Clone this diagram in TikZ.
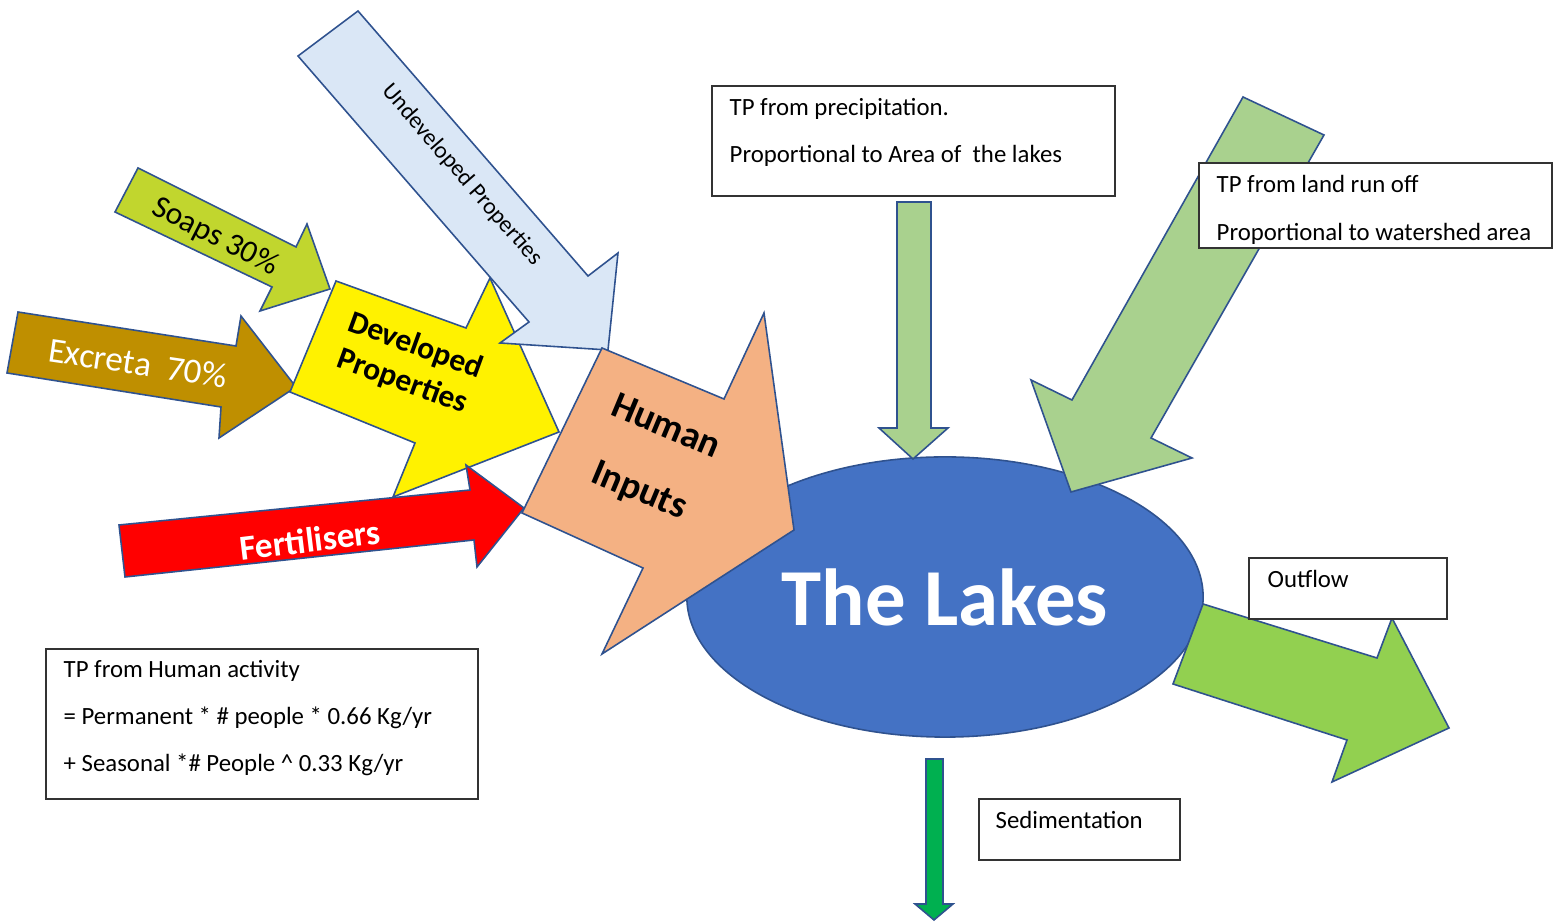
\documentclass[tikz,border=0pt]{standalone}
\usepackage{fontspec}
\setmainfont{Carlito}
\usetikzlibrary{shapes.geometric}
\definecolor{outl}{RGB}{47,82,143}
\definecolor{soap}{RGB}{193,214,46}
\definecolor{excr}{RGB}{191,143,0}
\definecolor{undev}{RGB}{218,231,246}
\definecolor{human}{RGB}{244,177,131}
\definecolor{lake}{RGB}{68,114,196}
\definecolor{lgreen}{RGB}{169,209,142}
\definecolor{ogreen}{RGB}{146,208,80}
\definecolor{sgreen}{RGB}{0,176,80}
\begin{document}
\begin{tikzpicture}[x=0.01cm,y=-0.01cm,
  blockarrow/.style={draw=outl,line width=0.45pt,line join=miter},
  infobox/.style={draw=black!80,line width=0.55pt,fill=white,anchor=north west,inner sep=0pt},
  boxtext/.style={anchor=base west,inner sep=0pt,font=\fontsize{7.05}{8}\selectfont},
  arrowlabel/.style={inner sep=0pt}]
\useasboundingbox (0,0) rectangle (1559,922);

% Soaps
\filldraw[blockarrow,fill=soap] (138,168) -- (296,247) -- (307,224) -- (330,289) -- (260,311) -- (272,287) -- (115,212) -- cycle;
% Excreta
\filldraw[blockarrow,fill=excr] (18,312) -- (236,346) -- (241,316) -- (296,387) -- (219,438) -- (221,407) -- (7,373) -- cycle;
% Developed properties
\filldraw[blockarrow,fill=yellow] (336,281) -- (466,328) -- (490,278) -- (559,432) -- (393,497) -- (415,443) -- (290,392) -- cycle;
% Undeveloped properties
\filldraw[blockarrow,fill=undev] (358,11) -- (588,276) -- (618,253) -- (608,350) -- (500,343) -- (529,322) -- (298,56) -- cycle;
% Fertilisers
\filldraw[blockarrow,fill=red] (119,525) -- (470,490) -- (466,465) -- (524,508) -- (477,567) -- (474,540) -- (125,577) -- cycle;

% The Lakes
\node[ellipse,fill=lake,draw=outl,line width=0.45pt,minimum width=5.16cm,minimum height=2.80cm,inner sep=0pt,
      text=white,font=\fontsize{23}{27}\selectfont\bfseries] (lakes) at (945,597) {The Lakes};

% Human inputs
\filldraw[blockarrow,fill=human] (602,348) -- (724,399) -- (764,313) -- (794,530) -- (602,654) -- (643,568) -- (522,513) -- cycle;
% Precipitation arrow
\filldraw[blockarrow,fill=lgreen] (897,202) -- (931,202) -- (931,428) -- (948,428) -- (913,459) -- (879,428) -- (897,428) -- cycle;
% Runoff arrow
\filldraw[blockarrow,fill=lgreen] (1243,97) -- (1324,135) -- (1151,438) -- (1192,458) -- (1071,492) -- (1031,380) -- (1072,400) -- cycle;
% Outflow arrow
\filldraw[blockarrow,fill=ogreen] (1203,604) -- (1377,658) -- (1392,618) -- (1449,728) -- (1332,782) -- (1347,740) -- (1173,684) -- cycle;
% Sedimentation arrow
\filldraw[blockarrow,fill=sgreen] (926,759) -- (943,759) -- (943,904) -- (953,904) -- (934,920) -- (915,904) -- (926,904) -- cycle;

% Arrow labels
\node[arrowlabel,rotate=-27,font=\fontsize{9}{10}\selectfont] (soapt) at (215,237) {Soaps 30\%};
\node[arrowlabel,rotate=-8.5,text=white,font=\fontsize{10}{12}\selectfont] (excrt) at (138,363) {Excreta\ \ 70\%};
\node[arrowlabel,rotate=-20,align=center,font=\fontsize{9}{10.8}\selectfont\bfseries] (devt) at (409,364) {Developed\\Properties};
\node[arrowlabel,rotate=-49,font=\fontsize{6.7}{8}\selectfont] (undevt) at (462,175) {Undeveloped Properties};
\node[arrowlabel,rotate=7,text=white,font=\fontsize{10}{12}\selectfont\bfseries] (fertt) at (310,540) {Fertilisers};
\node[arrowlabel,rotate=-22.7,align=center,font=\fontsize{10.8}{19.7}\selectfont\bfseries] (humt) at (652,460) {Human\\Inputs};

% Boxes
\node[infobox,minimum width=4.03cm,minimum height=1.10cm] (precipbox) at (711,85) {};
\node[boxtext] (precip1) at (729,116) {TP from precipitation.};
\node[boxtext] (precip2) at (729,163) {Proportional to Area of\ \ the lakes};

\node[infobox,minimum width=3.53cm,minimum height=0.85cm] (runoffbox) at (1198,162) {};
\begin{scope}
\clip (1198,162) rectangle (1551,245);
\node[boxtext] (runoff1) at (1216,193) {TP from land run off};
\node[boxtext] (runoff2) at (1216,241) {Proportional to watershed area};
\end{scope}

\node[infobox,minimum width=1.98cm,minimum height=0.61cm] (outbox) at (1248,557) {};
\node[boxtext] (outt) at (1267,588) {Outflow};

\node[infobox,minimum width=2.01cm,minimum height=0.61cm] (sedbox) at (978,798) {};
\node[boxtext] (sedt) at (995,829) {Sedimentation};

\node[infobox,minimum width=4.32cm,minimum height=1.50cm] (humbox) at (45,648) {};
\node[boxtext] (hb1) at (63,678) {TP from Human activity};
\node[boxtext] (hb2) at (63,725) {= Permanent * \# people * 0.66 Kg/yr};
\node[boxtext] (hb3) at (63,772) {+ Seasonal *\# People \^{} 0.33 Kg/yr};
\end{tikzpicture}
\end{document}
